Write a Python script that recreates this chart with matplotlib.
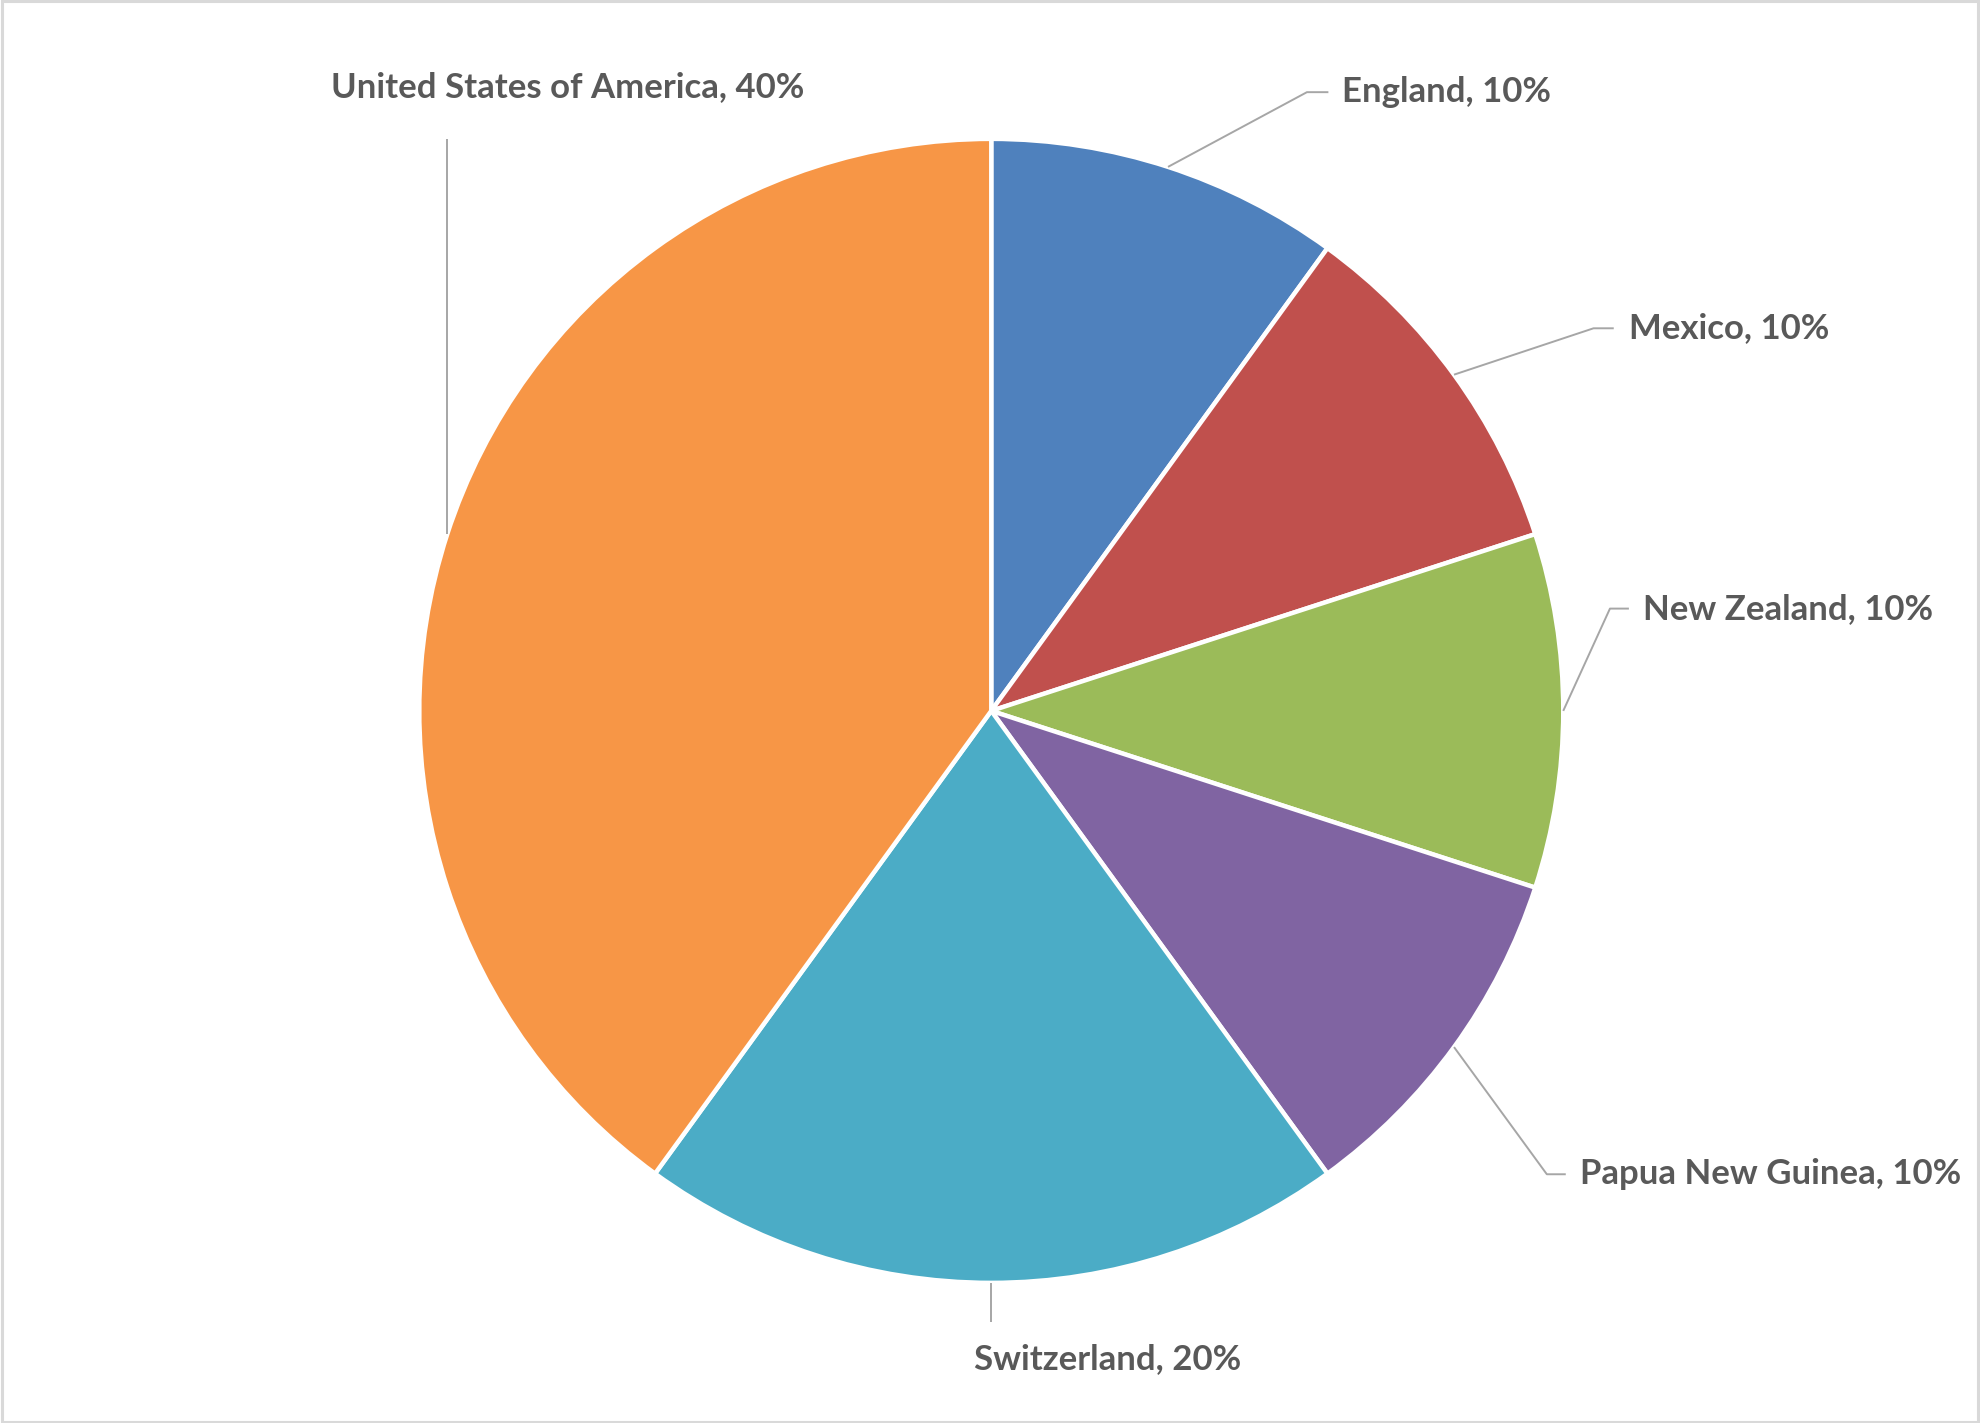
import numpy as np
import matplotlib
matplotlib.use("Agg")
import matplotlib.pyplot as plt
from matplotlib.patches import Rectangle

# data
countries = ['England', 'Mexico', 'New Zealand', 'Papua New Guinea',
             'Switzerland', 'United States of America']
shares = [10, 10, 10, 10, 20, 40]
colors = ['#4F81BD', '#C0504D', '#9BBB59', '#8064A2', '#4BACC6', '#F79646']

# canvas in reference "display" units (1568 x 1127), y measured from top
W, H = 1568, 1127
CX, CY, R = 785, 563, 453

# leader layout: (elbow point, end of short tail, text anchor, ha)
# elbow x of None -> vertical leader straight up/down from the anchor
leaders = {
    'England':          [(1035, 73), (1052, 73), (1063, 73), 'left'],
    'Mexico':           [(1262, 260), (1278, 260), (1290, 260), 'left'],
    'New Zealand':      [(1275, 482), (1290, 482), (1301, 482), 'left'],
    'Papua New Guinea': [(1225, 930), (1240, 930), (1251, 930), 'left'],
    'Switzerland':      [(None, 1047), None, (877, 1076), 'center'],
    'United States of America': [(None, 110), None, (262, 69), 'left'],
}

LINE_C = '#A6A6A6'
TEXT_C = '#595959'

fig = plt.figure(figsize=(19.8, 14.23), dpi=100)
ax = fig.add_axes([0, 0, 1, 1])


def fy(y):
    return H - y


wedges, _ = ax.pie(shares, colors=colors, startangle=90, counterclock=False,
                   center=(CX, fy(CY)), radius=R, frame=True,
                   wedgeprops=dict(edgecolor='white', linewidth=3.2))
ax.set_xlim(0, W)
ax.set_ylim(0, H)
ax.set_aspect('equal')
ax.axis('off')

for w, name, val in zip(wedges, countries, shares):
    mid = np.deg2rad((w.theta1 + w.theta2) / 2)
    ax_pt = (CX + R * np.cos(mid), fy(CY) + R * np.sin(mid))
    elbow, tail, txt, ha = leaders[name]
    ex = ax_pt[0] if elbow[0] is None else elbow[0]
    xs = [ax_pt[0], ex]
    ys = [ax_pt[1], fy(elbow[1])]
    if tail is not None:
        xs.append(tail[0])
        ys.append(fy(tail[1]))
    ax.plot(xs, ys, color=LINE_C, lw=1.4, solid_capstyle='butt', zorder=1)
    ax.text(txt[0], fy(txt[1]), f'{name}, {val}%', ha=ha, va='center',
            fontsize=25, fontweight='bold', family=['Lato', 'DejaVu Sans'],
            color=TEXT_C)

# light outer frame
fig.patches.append(Rectangle((0.0008, 0.001), 0.9984, 0.998, transform=fig.transFigure,
                             fill=False, edgecolor='#D9D9D9', linewidth=2.2))

fig.savefig('out.png', dpi=100)
